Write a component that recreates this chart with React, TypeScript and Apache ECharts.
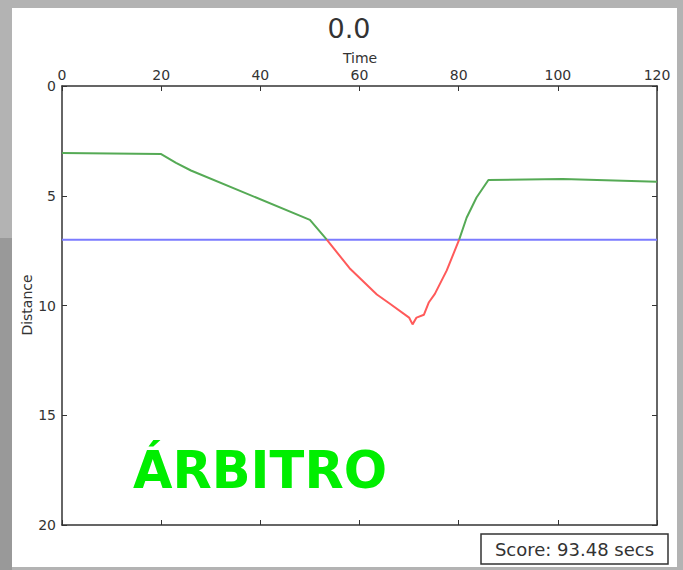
import React, { useEffect, useRef } from "react";
import * as echarts from "echarts";

const times = [0, 20, 23, 26, 50, 53.4, 58, 63.5, 66, 70, 70.7, 71.5, 73, 74, 75.2, 77.6, 80.1, 81.6, 83.6, 86, 101, 120];
const distances = [3.05, 3.1, 3.5, 3.85, 6.1, 7.0, 8.3, 9.5, 9.9, 10.55, 10.86, 10.55, 10.42, 9.85, 9.47, 8.4, 7.0, 6.0, 5.08, 4.28, 4.24, 4.36];
const thresholdTimes = [0, 120];
const thresholdValue = 7;
const xTicks = [0, 20, 40, 60, 80, 100, 120];
const yTicks = [0, 5, 10, 15, 20];
const titleText = "0.0";
const xName = "Time";
const yName = "Distance";
const bigLabel = "ÁRBITRO";
const scoreText = "Score: 93.48 secs";

const FONT = "DejaVu Sans";
const GREEN = "#55aa55";
const RED = "#ff5a5a";
const BLUE = "#7b7bff";

function splitSegments() {
  // split the track at points lying on the threshold
  const segs: { color: string; data: number[][] }[] = [];
  let cur: number[][] = [];
  for (let i = 0; i < times.length; i++) {
    cur.push([times[i], distances[i]]);
    if (distances[i] === thresholdValue && cur.length > 1) {
      const mid = cur[Math.floor(cur.length / 2)][1];
      segs.push({ color: mid > thresholdValue ? RED : GREEN, data: cur });
      cur = [[times[i], distances[i]]];
    }
  }
  if (cur.length > 1) {
    const mid = cur[Math.floor(cur.length / 2)][1];
    segs.push({ color: mid > thresholdValue ? RED : GREEN, data: cur });
  }
  return segs;
}

export default function App() {
  const ref = useRef<HTMLDivElement>(null);
  useEffect(() => {
    if (!ref.current) return;
    const chart = echarts.init(ref.current, undefined, { renderer: "svg" });
    const axisLine = { show: true, onZero: false, lineStyle: { color: "#333", width: 1.5 } };
    const tick = { show: true, inside: true, length: 5, lineStyle: { color: "#333", width: 1 } };
    const segs = splitSegments();
    chart.setOption({
      animation: false,
      backgroundColor: "#b3b3b3",
      graphic: [
        { type: "rect", z: -10, shape: { x: 0, y: 238, width: 12, height: 332 }, style: { fill: "#999999" } },
        { type: "rect", z: -9, shape: { x: 12, y: 8, width: 665, height: 559 }, style: { fill: "#ffffff" } },
        {
          type: "text", x: 349, y: 28, z: 10,
          style: { text: titleText, font: `27px '${FONT}'`, fill: "#333", align: "center", verticalAlign: "middle" },
        },
        {
          type: "text", x: 360, y: 58, z: 10,
          style: { text: xName, font: `14px '${FONT}'`, fill: "#333", align: "center", verticalAlign: "middle" },
        },
        {
          type: "text", x: 27, y: 305, z: 10, rotation: Math.PI / 2,
          style: { text: yName, font: `14px '${FONT}'`, fill: "#333", align: "center", verticalAlign: "middle" },
        },
        {
          type: "text", x: 133, y: 470, z: 10,
          style: { text: bigLabel, font: `bold 51px '${FONT}'`, fill: "#00ee00", align: "left", verticalAlign: "middle" },
        },
        {
          type: "rect", x: 481, y: 534, z: 10,
          shape: { width: 187, height: 30 },
          style: { fill: "#fff", stroke: "#333", lineWidth: 1.5 },
        },
        {
          type: "text", x: 574.5, y: 549, z: 11,
          style: { text: scoreText, font: `18px '${FONT}'`, fill: "#333", align: "center", verticalAlign: "middle" },
        },
      ],
      grid: { left: 62, right: 26, top: 86, bottom: 45, show: true, backgroundColor: "#fff", borderWidth: 0 },
      xAxis: [
        {
          type: "value", position: "top", min: xTicks[0], max: xTicks[xTicks.length - 1], interval: 20,
          axisLine, axisTick: tick,
          axisLabel: { fontFamily: FONT, fontSize: 14, color: "#333", margin: 4 },
          splitLine: { show: false },
        },
        {
          type: "value", position: "bottom", min: xTicks[0], max: xTicks[xTicks.length - 1], interval: 20,
          axisLine, axisTick: tick, axisLabel: { show: false }, splitLine: { show: false },
        },
      ],
      yAxis: [
        {
          type: "value", position: "left", inverse: true, min: yTicks[0], max: yTicks[yTicks.length - 1], interval: 5,
          axisLine, axisTick: tick,
          axisLabel: { fontFamily: FONT, fontSize: 14, color: "#333", margin: 6 },
          splitLine: { show: false },
        },
        {
          type: "value", position: "right", inverse: true, min: yTicks[0], max: yTicks[yTicks.length - 1], interval: 5,
          axisLine, axisTick: tick, axisLabel: { show: false }, splitLine: { show: false },
        },
      ],
      series: [
        {
          type: "line", xAxisIndex: 0, yAxisIndex: 0, showSymbol: false, symbol: "none",
          data: thresholdTimes.map((t) => [t, thresholdValue]),
          lineStyle: { width: 2, color: BLUE },
          itemStyle: { color: BLUE },
          z: 2,
        },
        ...segs.map((s) => ({
          type: "line", xAxisIndex: 0, yAxisIndex: 0, showSymbol: false, symbol: "none",
          data: s.data,
          lineStyle: { width: 2, color: s.color },
          itemStyle: { color: s.color },
          z: 3,
        })),
      ],
    });
    return () => chart.dispose();
  }, []);
  return <div ref={ref} style={{ position: "absolute", left: 0, top: 0, width: 683, height: 570 }} />;
}
